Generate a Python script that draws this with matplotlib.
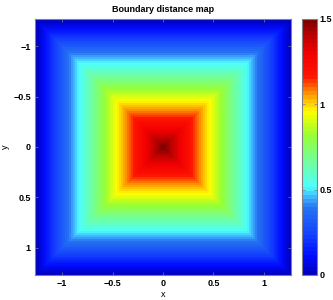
import numpy as np
import matplotlib
matplotlib.use('Agg')
import matplotlib.pyplot as plt
from matplotlib.colors import LinearSegmentedColormap

# extent of the map and value at its centre
half_width = 1.27
peak_value = 1.5
n_grid = 128
ticks = [-1, -0.5, 0, 0.5, 1]
tick_labels = ['\u22121', '\u22120.5', '0', '0.5', '1']
cbar_ticks = [0, 0.5, 1, 1.5]
cbar_labels = ['0', '0.5', '1', '1.5']

# colormap stops (fraction of 0..1.5, colour)
cmap_stops = [
    (0.00, (0.00, 0.00, 0.75)),
    (0.07, (0.00, 0.05, 1.00)),
    (0.15, (0.08, 0.25, 1.00)),
    (0.26, (0.15, 0.45, 0.95)),
    (0.30, (0.25, 0.70, 1.00)),
    (0.34, (0.30, 1.00, 1.00)),
    (0.45, (0.45, 1.00, 0.60)),
    (0.55, (0.60, 1.00, 0.20)),
    (0.64, (1.00, 1.00, 0.00)),
    (0.71, (1.00, 0.60, 0.00)),
    (0.78, (1.00, 0.08, 0.00)),
    (0.87, (0.95, 0.00, 0.00)),
    (0.94, (0.75, 0.00, 0.00)),
    (1.00, (0.50, 0.00, 0.00)),
]

plt.rcParams['font.family'] = ['Liberation Sans', 'DejaVu Sans']
plt.rcParams['font.size'] = 6.5
plt.rcParams['font.weight'] = 'bold'

cmap = LinearSegmentedColormap.from_list('bdm', cmap_stops, N=64)

x = np.linspace(-half_width, half_width, n_grid)
xx, yy = np.meshgrid(x, x)
dist = half_width - np.maximum(np.abs(xx), np.abs(yy))
values = peak_value * dist / half_width

fig = plt.figure(figsize=(3.33, 3.0), dpi=100)
ax = fig.add_axes([35 / 333, 25 / 300, 256 / 333, 256 / 300])
cax = fig.add_axes([302 / 333, 25 / 300, 15 / 333, 256 / 300])

im = ax.imshow(values, cmap=cmap, vmin=0, vmax=1.5, origin='upper',
               extent=[-half_width, half_width, half_width, -half_width],
               interpolation='nearest', aspect='auto')
ax.set_xlim(-half_width, half_width)
ax.set_ylim(half_width, -half_width)
ax.set_xticks(ticks)
ax.set_xticklabels(tick_labels)
ax.set_yticks(ticks)
ax.set_yticklabels(tick_labels)
ax.tick_params(direction='in', length=2.5, width=0.5, color='#808080',
               top=True, right=True, pad=3)
for s in ax.spines.values():
    s.set_color('#808080')
    s.set_linewidth(0.8)
ax.set_title('Boundary distance map', fontsize=6.5, fontweight='bold', pad=5)
ax.set_xlabel('x', labelpad=1)
ax.set_ylabel('y', labelpad=2)

cb = fig.colorbar(im, cax=cax)
cb.set_ticks(cbar_ticks)
cb.set_ticklabels(cbar_labels)
cax.tick_params(direction='in', length=2.5, width=0.5, color='#808080',
                left=True, right=True, pad=2)
cb.outline.set_edgecolor('#808080')
cb.outline.set_linewidth(0.8)

fig.savefig('out.png', dpi=100)
